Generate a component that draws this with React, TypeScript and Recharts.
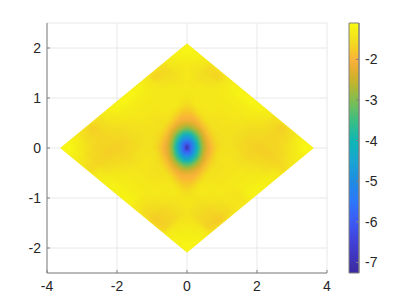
import React from "react";
import {
  ComposedChart, Area, Scatter, XAxis, YAxis, CartesianGrid, ReferenceArea,
} from "recharts";

const W = 409, H = 307;
const PLOT = { top: 23, right: 82, bottom: 34, left: 47 };
const X_TICKS = [-4, -2, 0, 2, 4];
const Y_TICKS = [-2, -1, 0, 1, 2];
const BAR_TICKS = [-7, -6, -5, -4, -3, -2];
const BAR_MIN = -7.26, BAR_MAX = -1.106;

const DIAMOND_X = 3.62, DIAMOND_Y = 2.09;
const DIAMOND_OUTLINE = [
  { x: -DIAMOND_X, band: [0, 0] },
  { x: 0, band: [-DIAMOND_Y, DIAMOND_Y] },
  { x: DIAMOND_X, band: [0, 0] },
];
const BASE_VALUE = -1.28;

const COLOR_STOPS: [number, number[]][] = [
  [-7.26, [60, 40, 160]], [-6.5, [65, 65, 215]], [-6, [60, 90, 245]], [-5.5, [45, 120, 250]],
  [-5, [30, 140, 225]], [-4.5, [25, 165, 210]], [-4, [15, 183, 180]], [-3.5, [60, 190, 130]],
  [-3, [130, 190, 80]], [-2.6, [190, 180, 45]], [-2.3, [225, 175, 45]], [-2, [250, 178, 60]],
  [-1.8, [245, 200, 40]], [-1.5, [243, 225, 30]], [-1.3, [245, 238, 22]], [-1.106, [250, 250, 20]],
];

const FIELD_VALUES = [
  [-1.2,-1.25,-1.4,-1.6,-1.65,-1.4,-1.25,-1.2,-1.2,-1.25,-1.35,-1.55,-1.7,-1.55,-1.3,-1.15],
  [-1.25,-1.35,-1.45,-1.55,-1.5,-1.4,-1.35,-1.35,-1.35,-1.35,-1.45,-1.55,-1.65,-1.6,-1.45,-1.3],
  [-1.4,-1.45,-1.4,-1.45,-1.4,-1.4,-1.4,-1.4,-1.4,-1.45,-1.55,-1.6,-1.65,-1.65,-1.6,-1.45],
  [-1.6,-1.55,-1.45,-1.4,-1.4,-1.4,-1.4,-1.45,-1.45,-1.5,-1.55,-1.65,-1.7,-1.7,-1.65,-1.6],
  [-1.65,-1.5,-1.4,-1.4,-1.4,-1.4,-1.45,-1.5,-1.5,-1.5,-1.55,-1.6,-1.65,-1.6,-1.55,-1.4],
  [-1.4,-1.4,-1.4,-1.4,-1.4,-1.45,-1.5,-1.6,-1.6,-1.55,-1.5,-1.5,-1.55,-1.5,-1.4,-1.3],
  [-1.25,-1.35,-1.4,-1.4,-1.45,-1.5,-1.65,-1.8,-1.8,-1.6,-1.5,-1.45,-1.45,-1.4,-1.35,-1.25],
  [-1.2,-1.35,-1.4,-1.45,-1.5,-1.6,-1.8,-2,-2,-1.8,-1.6,-1.5,-1.45,-1.4,-1.35,-1.25],
  [-1.2,-1.35,-1.4,-1.45,-1.5,-1.6,-1.8,-2,-2,-1.8,-1.6,-1.5,-1.45,-1.4,-1.35,-1.25],
  [-1.25,-1.35,-1.45,-1.5,-1.5,-1.55,-1.6,-1.8,-1.8,-1.65,-1.5,-1.45,-1.4,-1.4,-1.45,-1.45],
  [-1.35,-1.45,-1.55,-1.55,-1.55,-1.5,-1.5,-1.6,-1.6,-1.5,-1.45,-1.4,-1.4,-1.45,-1.55,-1.6],
  [-1.55,-1.55,-1.6,-1.65,-1.6,-1.5,-1.45,-1.5,-1.5,-1.45,-1.4,-1.4,-1.45,-1.55,-1.65,-1.75],
  [-1.7,-1.65,-1.65,-1.7,-1.65,-1.55,-1.45,-1.45,-1.45,-1.4,-1.4,-1.45,-1.45,-1.55,-1.65,-1.7],
  [-1.55,-1.6,-1.65,-1.7,-1.6,-1.5,-1.4,-1.4,-1.4,-1.4,-1.45,-1.55,-1.55,-1.45,-1.4,-1.35],
  [-1.3,-1.45,-1.6,-1.65,-1.55,-1.4,-1.35,-1.35,-1.45,-1.45,-1.55,-1.65,-1.65,-1.4,-1.3,-1.25],
  [-1.15,-1.3,-1.45,-1.6,-1.4,-1.3,-1.25,-1.25,-1.45,-1.45,-1.6,-1.75,-1.7,-1.35,-1.25,-1.2],
];

const CORE_ROW_P0 = [-1.88,-2.02,-2.25,-2.67,-3.35,-4.2,-5.1,-6.05,-7.25,-6.05,-5.1,-4.2,-3.35,-2.67,-2.25,-2.02,-1.88];
const CORE_ROW_P1 = [-1.9,-2.05,-2.35,-2.78,-3.5,-4.3,-5.15,-5.8,-6.05,-5.45,-4.7,-3.9,-3.0,-2.5,-2.1,-1.97,-1.83];
const CORE_ROW_P2 = [-1.92,-2.06,-2.35,-2.78,-3.4,-4.1,-4.75,-5.15,-5.1,-4.7,-4.05,-3.3,-2.7,-2.3,-2.04,-1.9,-1.78];
const CORE_ROW_P3 = [-1.92,-2.05,-2.3,-2.65,-3.1,-3.75,-4.1,-4.3,-4.2,-3.9,-3.3,-2.8,-2.4,-2.08,-1.96,-1.82,-1.73];
const CORE_ROW_P4 = [-1.9,-2.02,-2.18,-2.48,-2.8,-3.1,-3.4,-3.5,-3.35,-3.0,-2.7,-2.4,-2.1,-1.98,-1.86,-1.76,-1.66];
const CORE_ROW_P5 = [-1.86,-1.97,-2.07,-2.27,-2.48,-2.65,-2.78,-2.78,-2.67,-2.5,-2.3,-2.08,-1.98,-1.87,-1.77,-1.68,-1.6];
const CORE_ROW_P6 = [-1.8,-1.9,-1.99,-2.07,-2.18,-2.3,-2.35,-2.35,-2.25,-2.1,-2.04,-1.96,-1.86,-1.77,-1.69,-1.61,-1.53];
const CORE_ROW_P7 = [-1.76,-1.82,-1.9,-1.97,-2.02,-2.05,-2.06,-2.05,-2.02,-1.97,-1.9,-1.82,-1.76,-1.68,-1.61,-1.54,-1.46];
const CORE_ROW_P8 = [-1.7,-1.76,-1.8,-1.86,-1.9,-1.92,-1.92,-1.9,-1.88,-1.83,-1.78,-1.73,-1.66,-1.6,-1.53,-1.46,-1.42];
const CORE_POSITIVE = [CORE_ROW_P0, CORE_ROW_P1, CORE_ROW_P2, CORE_ROW_P3, CORE_ROW_P4, CORE_ROW_P5, CORE_ROW_P6, CORE_ROW_P7, CORE_ROW_P8];
const CORE_VALUES = [
  ...CORE_POSITIVE.slice(1).reverse().map((r) => [...r].reverse()),
  ...CORE_POSITIVE,
];

const FIELD_STEP_X = DIAMOND_X / FIELD_VALUES.length;
const FIELD_STEP_Y = DIAMOND_Y / FIELD_VALUES.length;
const fieldCells = FIELD_VALUES.flatMap((row, i) =>
  row.map((v, j) => ({
    x: (i - j) * FIELD_STEP_X,
    y: DIAMOND_Y - (i + j + 1) * FIELD_STEP_Y,
    v,
  })),
);
const CORE_STEP_X = 0.056, CORE_STEP_Y = 0.068;
const coreCells = CORE_VALUES.flatMap((row, i) =>
  row.map((v, j) => ({
    x: (i - j) * CORE_STEP_X,
    y: -(i + j - 16) * CORE_STEP_Y,
    v,
    rim: Math.max(Math.abs(i - 8), Math.abs(j - 8)),
  })),
);

const PX_X = (W - PLOT.left - PLOT.right) / 8;
const PX_Y = (H - PLOT.top - PLOT.bottom) / 5;
const toPx = (x: number, y: number) =>
  `${PLOT.left + (x + 4) * PX_X},${PLOT.top + (2.5 - y) * PX_Y}`;
const CLIP_POINTS = [
  toPx(-DIAMOND_X, 0), toPx(0, DIAMOND_Y), toPx(DIAMOND_X, 0), toPx(0, -DIAMOND_Y),
].join(" ");

function colorOf(v: number) {
  if (v <= COLOR_STOPS[0][0]) return `rgb(${COLOR_STOPS[0][1].join(",")})`;
  for (let k = 1; k < COLOR_STOPS.length; k++) {
    const [b, cb] = COLOR_STOPS[k];
    if (v <= b) {
      const [a, ca] = COLOR_STOPS[k - 1];
      const t = (v - a) / (b - a);
      return `rgb(${ca.map((c, n) => Math.round(c + (cb[n] - c) * t)).join(",")})`;
    }
  }
  return `rgb(${COLOR_STOPS[COLOR_STOPS.length - 1][1].join(",")})`;
}

const rhombus = (hx: number, hy: number) => (p: any) => {
  const rim = p.payload?.rim ?? p.rim ?? 0;
  const v = p.payload?.v ?? p.v;
  const op = rim >= 8 ? 0.3 : rim === 7 ? 0.65 : 1;
  const cx = p.cx, cy = p.cy;
  return (
    <polygon
      points={`${cx - hx},${cy} ${cx},${cy - hy} ${cx + hx},${cy} ${cx},${cy + hy}`}
      fill={colorOf(v)}
      fillOpacity={op}
    />
  );
};

const AXIS_GRAY = "#808080";
const TEXT = "#262626";
const tickStyle = { fontFamily: "'Liberation Sans', Arial, sans-serif", fontSize: 14, fill: TEXT };
const BAR_BAND = [{ x: 0, band: [BAR_MIN, BAR_MAX] }, { x: 1, band: [BAR_MIN, BAR_MAX] }];

export default function App() {
  return (
    <div style={{ position: "absolute", left: 0, top: 0, width: W, height: H }}>
      <style>{`
        .field-layer { filter: blur(2.5px); clip-path: url(#diamond-clip); }
        .core-layer { filter: blur(1px); }
      `}</style>
      <div style={{ position: "absolute", left: 0, top: 0 }}>
        <ComposedChart width={W} height={H} margin={{ top: PLOT.top, right: PLOT.right, bottom: 0, left: 0 }}>
          <defs>
            <clipPath id="diamond-clip" clipPathUnits="userSpaceOnUse">
              <polygon points={CLIP_POINTS} />
            </clipPath>
          </defs>
          <CartesianGrid stroke="#e8e8e8" strokeWidth={1} />
          <XAxis
            type="number" dataKey="x" domain={[-4, 4]} ticks={X_TICKS} height={PLOT.bottom}
            tick={tickStyle} stroke={AXIS_GRAY} tickSize={-3} tickMargin={11}
            tickFormatter={(v: number) => String(v)} allowDataOverflow
          />
          <YAxis
            type="number" dataKey="y" domain={[-2.5, 2.5]} ticks={Y_TICKS} width={PLOT.left}
            tick={tickStyle} stroke={AXIS_GRAY} tickSize={-3} tickMargin={9}
            tickFormatter={(v: number) => String(v)} allowDataOverflow
          />
          <Area
            data={DIAMOND_OUTLINE} dataKey="band" type="linear" stroke="none"
            fill={colorOf(BASE_VALUE)} fillOpacity={1} isAnimationActive={false}
          />
          <Scatter
            className="field-layer" data={fieldCells} isAnimationActive={false}
            shape={rhombus(FIELD_STEP_X * PX_X + 0.5, FIELD_STEP_Y * PX_Y + 0.5)}
          />
          <Scatter
            className="core-layer" data={coreCells} isAnimationActive={false}
            shape={rhombus(CORE_STEP_X * PX_X + 0.4, CORE_STEP_Y * PX_Y + 0.4)}
          />
        </ComposedChart>
      </div>
      <div style={{ position: "absolute", left: 0, top: 0 }}>
        <ComposedChart width={W} height={H} margin={{ top: PLOT.top, right: 0, bottom: PLOT.bottom, left: 349 }}>
          <defs>
            <linearGradient id="bar-gradient" x1="0" y1="1" x2="0" y2="0">
              {COLOR_STOPS.map(([v, c]) => (
                <stop
                  key={v}
                  offset={(v - BAR_MIN) / (BAR_MAX - BAR_MIN)}
                  stopColor={`rgb(${c.join(",")})`}
                />
              ))}
            </linearGradient>
          </defs>
          <XAxis type="number" dataKey="x" domain={[0, 1]} hide />
          <YAxis
            type="number" orientation="right" domain={[BAR_MIN, BAR_MAX]} ticks={BAR_TICKS} width={50}
            tick={{ ...tickStyle, textAnchor: "start" }} stroke={AXIS_GRAY} tickSize={-3} tickMargin={9}
            tickFormatter={(v: number) => String(v)} allowDataOverflow
          />
          <Area
            data={BAR_BAND} dataKey="band" type="linear" stroke="none"
            fill="url(#bar-gradient)" fillOpacity={1} isAnimationActive={false}
          />
          <ReferenceArea x1={0} x2={1} y1={BAR_MIN} y2={BAR_MAX} fill="none" stroke={AXIS_GRAY} strokeOpacity={1} />
        </ComposedChart>
      </div>
    </div>
  );
}
